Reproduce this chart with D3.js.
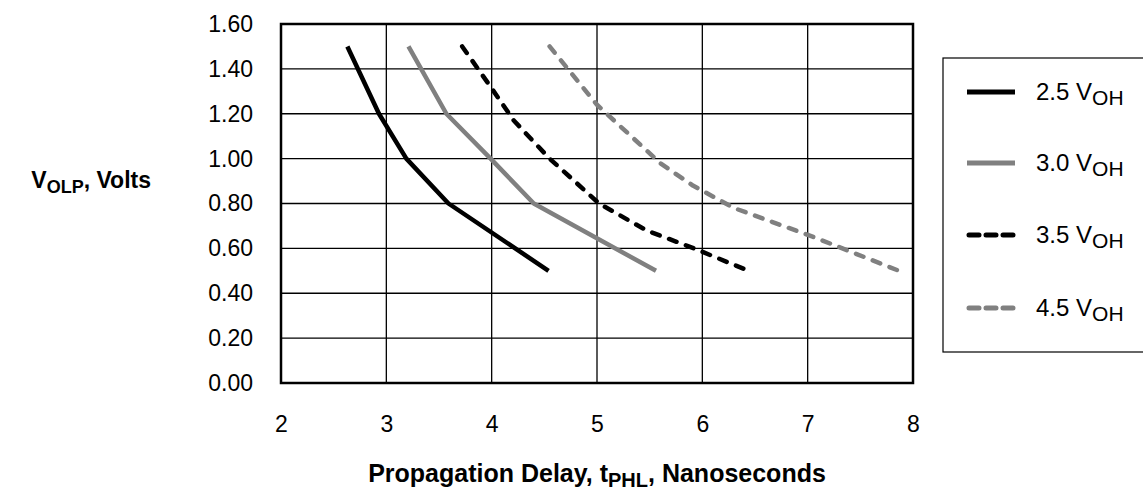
<!DOCTYPE html>
<html>
<head>
<meta charset="utf-8">
<script src="https://cdn.jsdelivr.net/npm/d3@7"></script>
<style>
  html, body { margin: 0; padding: 0; background: #fff; }
  svg { display: block; font-family: "Liberation Sans", Arial, sans-serif; }
</style>
</head>
<body>
<svg id="chart" width="1143" height="496"></svg>
<script>
// ---- data ----
const xTicks = [2, 3, 4, 5, 6, 7, 8];
const yTicks = [0, 0.2, 0.4, 0.6, 0.8, 1.0, 1.2, 1.4, 1.6];

const seriesNames = ["2.5", "3.0", "3.5", "4.5"];

const delay25 = [2.63, 2.93, 3.19, 3.59, 4.54];
const volt25  = [1.50, 1.20, 1.00, 0.80, 0.50];

const delay30 = [3.21, 3.57, 3.99, 4.40, 5.56];
const volt30  = [1.50, 1.20, 1.00, 0.80, 0.50];

const delay35 = [3.72, 3.99, 4.21, 4.55, 5.02, 5.47, 5.92, 6.44];
const volt35  = [1.50, 1.32, 1.17, 1.00, 0.80, 0.68, 0.60, 0.50];

const delay45 = [4.55, 5.00, 5.60, 5.91, 6.30, 7.06, 7.92];
const volt45  = [1.50, 1.24, 0.98, 0.88, 0.78, 0.65, 0.49];

// ---- layout ----
const svg = d3.select("#chart");
const L = 281, R = 913, T = 24, B = 383;
const FONT = "Liberation Sans, Arial, sans-serif";

const x = d3.scaleLinear().domain([2, 8]).range([L, R]);
const y = d3.scaleLinear().domain([0, 1.6]).range([B, T]);

// grid
const grid = svg.append("g");
grid.selectAll("line.v").data(xTicks.slice(1, -1)).enter().append("line")
  .attr("x1", d => x(d)).attr("x2", d => x(d))
  .attr("y1", T).attr("y2", B)
  .attr("stroke", "#000").attr("stroke-width", 1.3);
grid.selectAll("line.h").data(yTicks.slice(1, -1)).enter().append("line")
  .attr("x1", L).attr("x2", R)
  .attr("y1", d => y(d)).attr("y2", d => y(d))
  .attr("stroke", "#000").attr("stroke-width", 1.3);

// frame
svg.append("rect").attr("x", L).attr("y", T)
  .attr("width", R - L).attr("height", B - T)
  .attr("fill", "none").attr("stroke", "#000").attr("stroke-width", 2.5);

// axes (labels only)
const xAxis = d3.axisBottom(x).tickValues(xTicks).tickSize(0).tickPadding(33)
  .tickFormat(d3.format("d"));
const gx = svg.append("g").attr("transform", `translate(0,${B})`).call(xAxis);
gx.select(".domain").remove();
gx.selectAll("text").attr("font-size", 23).attr("fill", "#000")
  .attr("font-family", FONT);

const yAxis = d3.axisLeft(y).tickValues(yTicks).tickSize(0).tickPadding(28)
  .tickFormat(d3.format(".2f"));
const gy = svg.append("g").attr("transform", `translate(${L},0)`).call(yAxis);
gy.select(".domain").remove();
gy.selectAll("text").attr("font-size", 23).attr("fill", "#000")
  .attr("font-family", FONT);

// series
const styles = [
  { color: "#000000", dash: null },
  { color: "#808080", dash: null },
  { color: "#000000", dash: "8,10" },
  { color: "#808080", dash: "8,10" }
];
const seriesData = [
  delay25.map((d, i) => [d, volt25[i]]),
  delay30.map((d, i) => [d, volt30[i]]),
  delay35.map((d, i) => [d, volt35[i]]),
  delay45.map((d, i) => [d, volt45[i]])
];
const line = d3.line().x(d => x(d[0])).y(d => y(d[1]));
seriesData.forEach((pts, i) => {
  const p = svg.append("path").attr("d", line(pts))
    .attr("fill", "none").attr("stroke", styles[i].color)
    .attr("stroke-width", 4.5)
    .attr("stroke-linejoin", "round");
  if (styles[i].dash) p.attr("stroke-dasharray", styles[i].dash).attr("stroke-linecap", "round");
  else p.attr("stroke-linecap", "butt");
});

// legend
const lg = svg.append("g");
lg.append("rect").attr("x", 943).attr("y", 58).attr("width", 220).attr("height", 294)
  .attr("fill", "#fff").attr("stroke", "#000").attr("stroke-width", 1.2);
const rowY = [92, 163, 235, 308];
seriesNames.forEach((name, i) => {
  const l = lg.append("line").attr("x1", 967).attr("x2", 1015)
    .attr("y1", rowY[i]).attr("y2", rowY[i])
    .attr("stroke", styles[i].color).attr("stroke-width", 5);
  if (styles[i].dash) l.attr("stroke-linecap", "round")
    .attr("x1", 969).attr("x2", 1013).attr("stroke-dasharray", "10,7");
  const t = lg.append("text").attr("x", 1036).attr("y", rowY[i] + 8)
    .attr("font-size", 24).attr("fill", "#000").attr("font-family", FONT);
  t.append("tspan").text(name + " V");
  t.append("tspan").attr("dy", 5).attr("font-size", 21).text("OH");
});

// y title
const yt = svg.append("text").attr("x", 151).attr("y", 188)
  .attr("text-anchor", "end")
  .attr("font-size", 23).attr("font-weight", "bold").attr("fill", "#000").attr("font-family", FONT);
yt.append("tspan").text("V");
yt.append("tspan").attr("dy", 5).attr("font-size", 18).text("OLP");
yt.append("tspan").attr("dy", -5).text(", Volts");

// x title
const xt = svg.append("text").attr("x", (L + R) / 2).attr("y", 482)
  .attr("text-anchor", "middle")
  .attr("font-size", 25).attr("font-weight", "bold").attr("fill", "#000").attr("font-family", FONT);
xt.append("tspan").text("Propagation Delay, t");
xt.append("tspan").attr("dy", 5).attr("font-size", 20).text("PHL");
xt.append("tspan").attr("dy", -5).text(", Nanoseconds");
</script>
</body>
</html>
